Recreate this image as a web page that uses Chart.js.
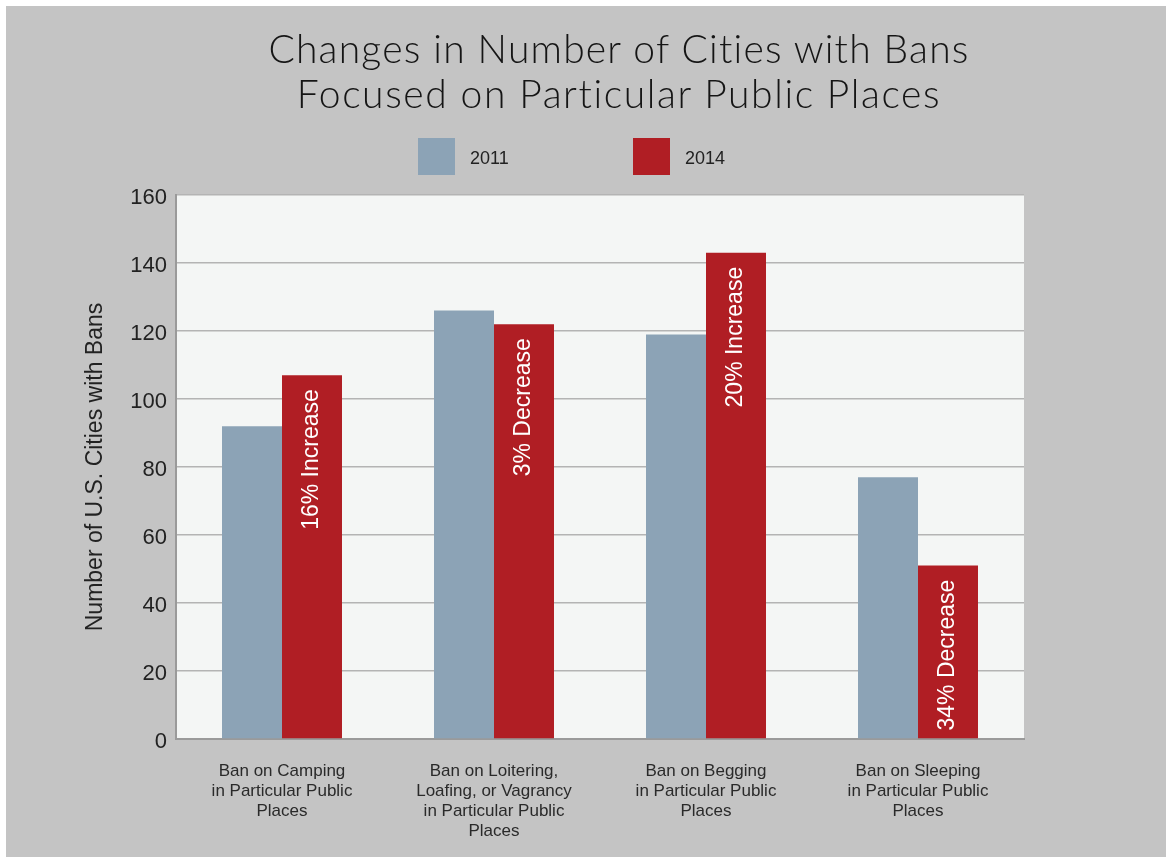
<!DOCTYPE html>
<html>
<head>
<meta charset="utf-8">
<title>Changes in Number of Cities with Bans</title>
<script src="https://cdn.jsdelivr.net/npm/chart.js@4.4.1/dist/chart.umd.min.js"></script>
<style>
    html, body { margin:0; padding:0; background:#ffffff; }
    #wrap { position:absolute; left:6px; top:6px; width:1160px; height:851px; background:#c4c4c4; overflow:hidden; }
    #cnvBans { position:absolute; left:0; top:0; }
    #chartTitle { position:absolute; left:213px; width:800px; top:20px; text-align:center;
        font-family:Lato, sans-serif; font-weight:300; font-size:39px; line-height:45px; color:#151515; letter-spacing:1.2px; }
    #chartTitle span { display:block; }
    #chartTitle span + span { letter-spacing:1.6px; }
    #chartLegend { position:absolute; left:412px; top:132px; display:flex; }
    .legItem { width:215px; display:flex; align-items:center; }
    .legBox { width:37px; height:37px; margin-right:15px; }
    .legText { font-family:"Liberation Sans", Arial, sans-serif; font-size:18px; color:#222; padding-top:3px; }
</style>
</head>
<body>
<div id="wrap">
    <canvas id="cnvBans" width="1160" height="851"></canvas>
    <div id="chartTitle"></div>
    <div id="chartLegend"></div>
</div>
<script>
// chart data
const titleLines = ['Changes in Number of Cities with Bans', 'Focused on Particular Public Places'];
const categories = [
    ['Ban on Camping', 'in Particular Public', 'Places'],
    ['Ban on Loitering,', 'Loafing, or Vagrancy', 'in Particular Public', 'Places'],
    ['Ban on Begging', 'in Particular Public', 'Places'],
    ['Ban on Sleeping', 'in Particular Public', 'Places']
];
const seriesNames = ['2011', '2014'];
const bans2011 = [92, 126, 119, 77];
const bans2014 = [107, 122, 143, 51];
const changeLabels = ['16% Increase', '3% Decrease', '20% Increase', '34% Decrease'];
const yTicks = [0, 20, 40, 60, 80, 100, 120, 140, 160];
const yAxisTitle = 'Number of U.S. Cities with Bans';

const colors = ['#8ca3b6', '#b01e24'];
const axisFont = '"Liberation Sans", Arial, Helvetica, sans-serif';

// title and legend
document.getElementById('chartTitle').innerHTML = titleLines.map(t => '<span>' + t + '</span>').join('');
let strLegend = '';
seriesNames.forEach(function(name, i) {
    strLegend += '<div class="legItem"><div class="legBox" style="background:' + colors[i] + '"></div><span class="legText">' + name + '</span></div>';
});
document.getElementById('chartLegend').innerHTML = strLegend;

// fills the plot area
const plotBackground = {
    id: 'plotBackground',
    beforeDraw: (chart) => {
        const {ctx, chartArea} = chart;
        ctx.save();
        ctx.fillStyle = '#f4f6f5';
        ctx.fillRect(chartArea.left, chartArea.top, chartArea.right - chartArea.left, chartArea.bottom - chartArea.top);
        ctx.restore();
    }
};

// rotated percent change text inside the 2014 bars
const changeText = {
    id: 'changeText',
    afterDatasetsDraw: (chart) => {
        const ctx = chart.ctx;
        chart.getDatasetMeta(1).data.forEach((bar, i) => {
            ctx.save();
            ctx.translate(bar.x, bar.y + 14);
            ctx.rotate(-Math.PI / 2);
            ctx.font = '23px ' + axisFont;
            ctx.fillStyle = '#ffffff';
            ctx.textAlign = 'right';
            ctx.textBaseline = 'middle';
            ctx.fillText(changeLabels[i], 0, 0);
            ctx.restore();
        });
    }
};

const bansChart = new Chart(document.getElementById('cnvBans'), {
    type: 'bar',
    data: {
        labels: categories,
        datasets: [
            { label: seriesNames[0], data: bans2011, backgroundColor: colors[0] },
            { label: seriesNames[1], data: bans2014, backgroundColor: colors[1] }
        ]
    },
    options: {
        responsive: false,
        animation: false,
        barPercentage: 1,
        categoryPercentage: 0.566,
        layout: { padding: { top: 189, left: 0, right: 142, bottom: 0 } },
        plugins: {
            legend: { display: false },
            title: { display: false },
            tooltip: { enabled: false }
        },
        scales: {
            x: {
                grid: { display: false },
                border: { display: true, color: '#9a9a9a', width: 2 },
                ticks: { color: '#2a2a2a', padding: 14, maxRotation: 0, autoSkip: false,
                    font: { family: axisFont, size: 17, lineHeight: 1.18 } },
                afterFit: (scale) => { scale.height = 118; }
            },
            y: {
                min: 0,
                max: 160,
                afterBuildTicks: (scale) => { scale.ticks = yTicks.map(v => ({ value: v })); },
                grid: { color: '#b4b4b4', lineWidth: 1.5, drawTicks: false },
                border: { display: true, color: '#9a9a9a', width: 2 },
                ticks: { color: '#222222', padding: 9, labelOffset: 3, font: { family: axisFont, size: 22 } },
                title: { display: true, text: yAxisTitle, color: '#222222',
                    padding: { top: 76, bottom: 0 }, font: { family: axisFont, size: 23 } },
                afterFit: (scale) => { scale.width = 170; }
            }
        }
    },
    plugins: [plotBackground, changeText]
});
</script>
</body>
</html>
